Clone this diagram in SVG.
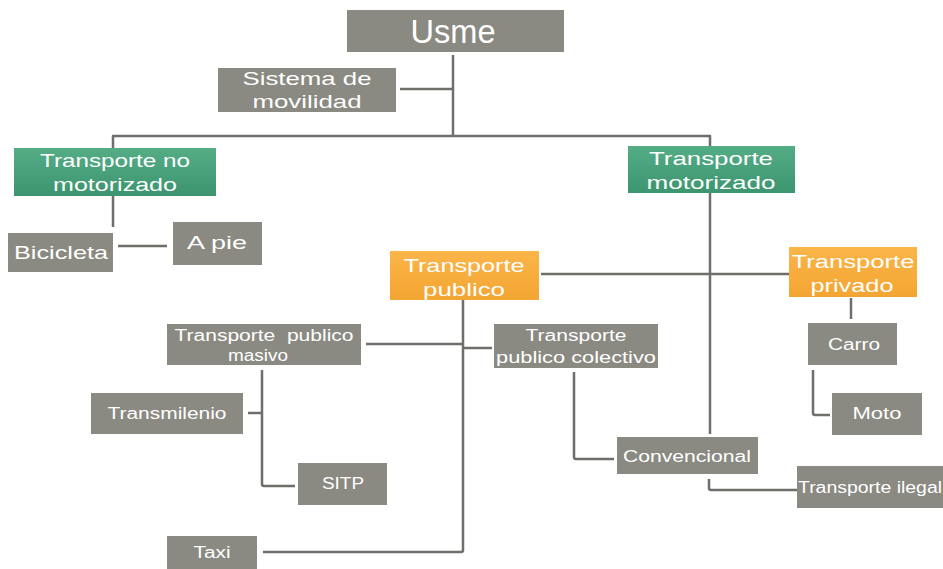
<svg xmlns="http://www.w3.org/2000/svg" width="943" height="569" viewBox="0 0 943 569">
  <defs>
    <linearGradient id="gGreen" x1="0" y1="0" x2="0" y2="1">
      <stop offset="0" stop-color="#55ad86"/>
      <stop offset="1" stop-color="#3d9570"/>
    </linearGradient>
    <linearGradient id="gOrange" x1="0" y1="0" x2="0" y2="1">
      <stop offset="0" stop-color="#fbb549"/>
      <stop offset="1" stop-color="#f3a532"/>
    </linearGradient>
    <style>
      .box { fill: #8a8a82; }
      .green { fill: url(#gGreen); }
      .orange { fill: url(#gOrange); }
      .lbl { font-family: "Liberation Sans", Arial, sans-serif; fill: #ffffff; text-anchor: middle; }
      .big { font-size: 19px; }
      .mid { font-size: 16px; }
      .link { fill: none; stroke: #6e6e6a; stroke-width: 2.5; stroke-linejoin: round; }
    </style>
  </defs>
  <rect width="943" height="569" fill="#ffffff"/>

  <!-- connectors -->
  <g id="connectors">
    <path class="link" d="M453 55 V136"/>
    <path class="link" d="M400 89 H453"/>
    <path class="link" d="M113 149 V136 H710 V147"/>
    <path class="link" d="M113 196 V227"/>
    <path class="link" d="M118 246 H167"/>
    <path class="link" d="M710 193 V434"/>
    <path class="link" d="M541 274 H789"/>
    <path class="link" d="M709 479 V488 Q709 490 711 490 H797"/>
    <path class="link" d="M463 300 V550 Q463 552 461 552 H263"/>
    <path class="link" d="M366 344 H463"/>
    <path class="link" d="M463 348 H492"/>
    <path class="link" d="M851 298 V319"/>
    <path class="link" d="M262 370 V484 Q262 486 264 486 H295"/>
    <path class="link" d="M248 413 H262"/>
    <path class="link" d="M574 372 V457 Q574 459 576 459 H614"/>
    <path class="link" d="M813 370 V413 Q813 415 815 415 H830"/>
  </g>

  <g id="usme">
    <rect class="box" x="347" y="10" width="217" height="42"/>
    <text class="lbl" x="453" y="43" font-size="33" textLength="85" lengthAdjust="spacingAndGlyphs">Usme</text>
  </g>
  <g id="sistema">
    <rect class="box" x="218" y="68" width="178" height="44"/>
    <text class="lbl big" x="307" y="85" textLength="129" lengthAdjust="spacingAndGlyphs">Sistema de</text>
    <text class="lbl big" x="307" y="108" textLength="109" lengthAdjust="spacingAndGlyphs">movilidad</text>
  </g>
  <g id="no-motorizado">
    <rect class="green" x="14" y="148" width="202" height="48"/>
    <text class="lbl big" x="115" y="167" textLength="150" lengthAdjust="spacingAndGlyphs">Transporte no</text>
    <text class="lbl big" x="115" y="191" textLength="124" lengthAdjust="spacingAndGlyphs">motorizado</text>
  </g>
  <g id="motorizado">
    <rect class="green" x="628" y="146" width="167" height="47"/>
    <text class="lbl big" x="711" y="165" textLength="124" lengthAdjust="spacingAndGlyphs">Transporte</text>
    <text class="lbl big" x="711" y="189" textLength="129" lengthAdjust="spacingAndGlyphs">motorizado</text>
  </g>
  <g id="bicicleta">
    <rect class="box" x="8" y="233" width="105" height="39"/>
    <text class="lbl big" x="61" y="259" textLength="94" lengthAdjust="spacingAndGlyphs">Bicicleta</text>
  </g>
  <g id="a-pie">
    <rect class="box" x="173" y="222" width="89" height="43"/>
    <text class="lbl big" x="217" y="249" textLength="60" lengthAdjust="spacingAndGlyphs">A pie</text>
  </g>
  <g id="publico">
    <rect class="orange" x="390" y="251" width="149" height="49"/>
    <text class="lbl big" x="464" y="272" textLength="121" lengthAdjust="spacingAndGlyphs">Transporte</text>
    <text class="lbl big" x="464" y="296" textLength="82" lengthAdjust="spacingAndGlyphs">publico</text>
  </g>
  <g id="privado">
    <rect class="orange" x="789" y="247" width="128" height="50"/>
    <text class="lbl big" x="853" y="268" textLength="123" lengthAdjust="spacingAndGlyphs">Transporte</text>
    <text class="lbl big" x="852" y="292" textLength="83" lengthAdjust="spacingAndGlyphs">privado</text>
  </g>
  <g id="masivo">
    <rect class="box" x="167" y="324" width="194" height="41"/>
    <text class="lbl mid" x="264" y="341" textLength="179" lengthAdjust="spacingAndGlyphs" xml:space="preserve">Transporte  publico</text>
    <text class="lbl mid" x="258" y="361" textLength="60" lengthAdjust="spacingAndGlyphs">masivo</text>
  </g>
  <g id="colectivo">
    <rect class="box" x="494" y="324" width="164" height="44"/>
    <text class="lbl mid" x="576" y="341" textLength="101" lengthAdjust="spacingAndGlyphs">Transporte</text>
    <text class="lbl mid" x="576" y="363" textLength="160" lengthAdjust="spacingAndGlyphs">publico colectivo</text>
  </g>
  <g id="carro">
    <rect class="box" x="808" y="323" width="89" height="42"/>
    <text class="lbl mid" x="854" y="350" textLength="52" lengthAdjust="spacingAndGlyphs">Carro</text>
  </g>
  <g id="transmilenio">
    <rect class="box" x="91" y="393" width="152" height="41"/>
    <text class="lbl mid" x="167" y="419" textLength="119" lengthAdjust="spacingAndGlyphs">Transmilenio</text>
  </g>
  <g id="moto">
    <rect class="box" x="832" y="393" width="90" height="42"/>
    <text class="lbl mid" x="877" y="419" textLength="49" lengthAdjust="spacingAndGlyphs">Moto</text>
  </g>
  <g id="convencional">
    <rect class="box" x="617" y="437" width="141" height="37"/>
    <text class="lbl mid" x="687" y="462" textLength="128" lengthAdjust="spacingAndGlyphs">Convencional</text>
  </g>
  <g id="sitp">
    <rect class="box" x="298" y="463" width="89" height="42"/>
    <text class="lbl mid" x="343" y="489" textLength="42" lengthAdjust="spacingAndGlyphs">SITP</text>
  </g>
  <g id="ilegal">
    <rect class="box" x="797" y="466" width="146" height="42"/>
    <text class="lbl mid" x="870" y="493" textLength="144" lengthAdjust="spacingAndGlyphs">Transporte ilegal</text>
  </g>
  <g id="taxi">
    <rect class="box" x="167" y="536" width="90" height="33"/>
    <text class="lbl mid" x="212" y="558" textLength="37" lengthAdjust="spacingAndGlyphs">Taxi</text>
  </g>
</svg>
